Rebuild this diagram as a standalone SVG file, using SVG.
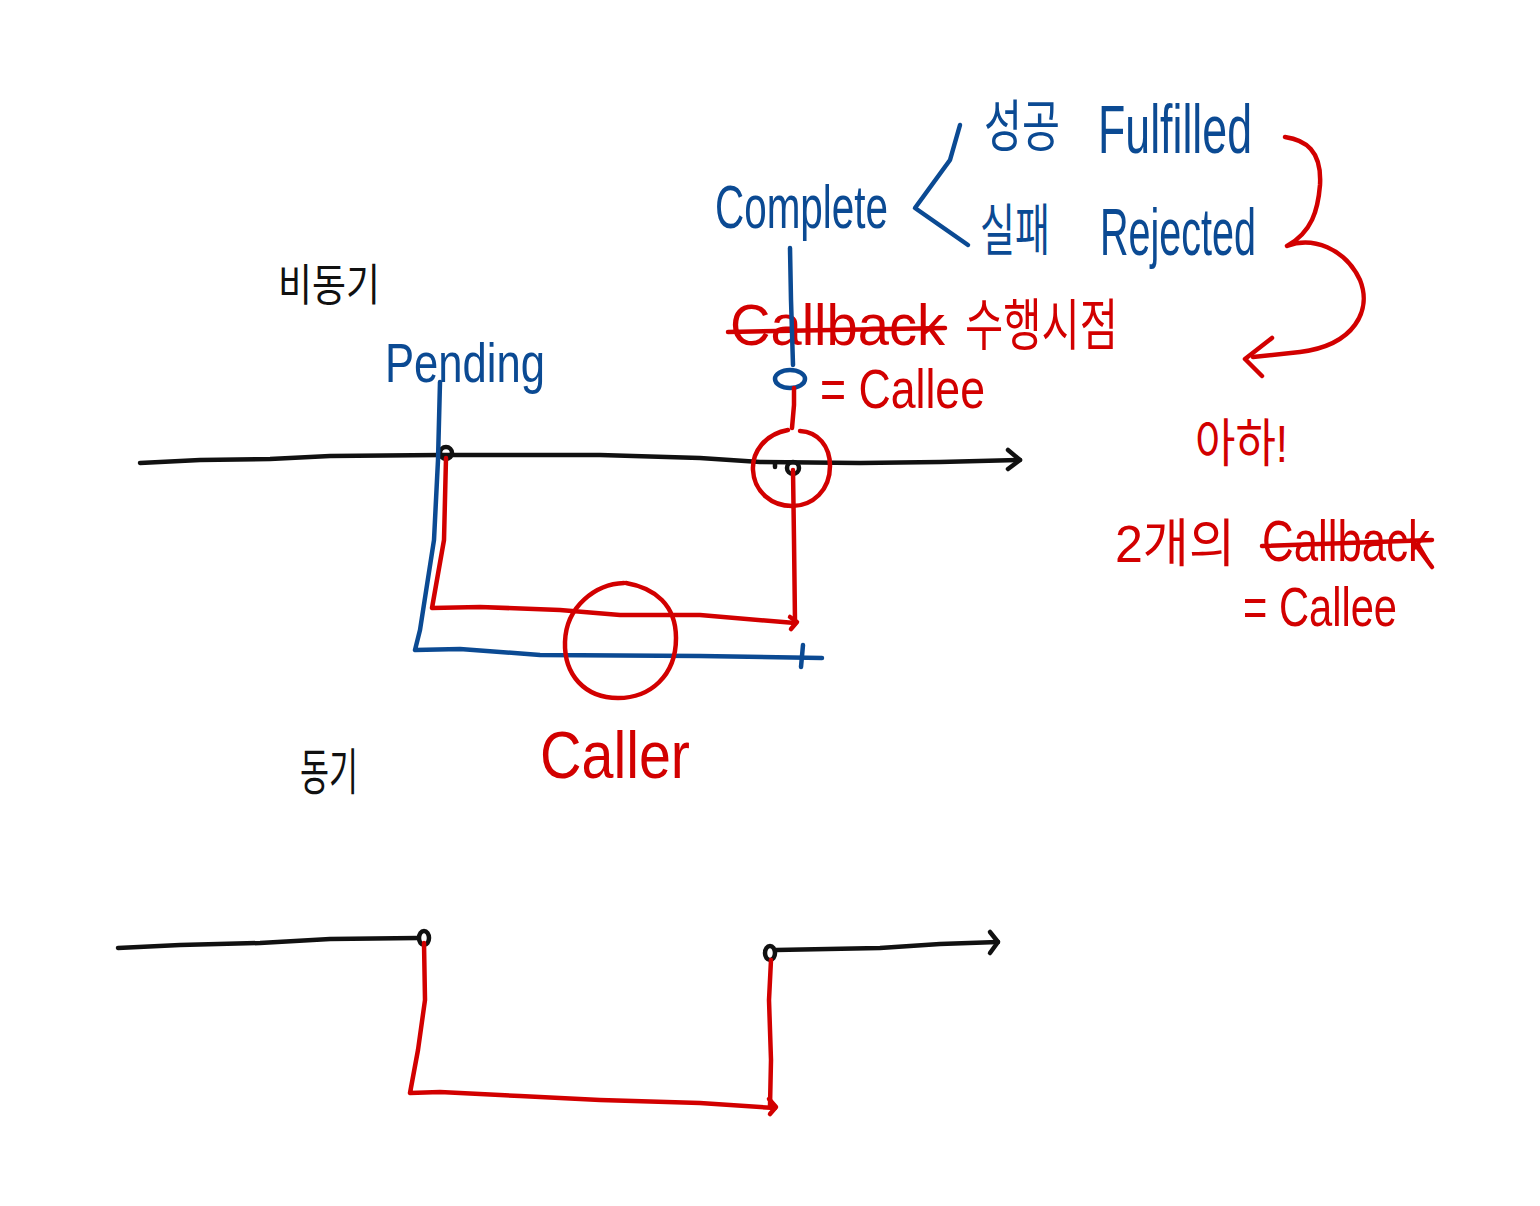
<svg xmlns="http://www.w3.org/2000/svg" width="1540" height="1206" viewBox="0 0 1540 1206">
<style>
.k{stroke:#111;fill:none;stroke-width:4.5;stroke-linecap:round;stroke-linejoin:round}
.b{stroke:#0b4a93;fill:none;stroke-width:4.5;stroke-linecap:round;stroke-linejoin:round}
.r{stroke:#d20000;fill:none;stroke-width:4.5;stroke-linecap:round;stroke-linejoin:round}
.tk{fill:#111;font-family:"Noto Sans CJK KR","Liberation Sans",sans-serif}
.tb{fill:#0b4a93;font-family:"Liberation Sans","Noto Sans CJK KR",sans-serif}
.tr{fill:#d20000;font-family:"Liberation Sans","Noto Sans CJK KR",sans-serif}
</style>
<rect width="1540" height="1206" fill="#fff"/>

<g id="async-labels">
<text class="tk" x="278" y="301" font-size="44" textLength="102" lengthAdjust="spacingAndGlyphs">비동기</text>
<text class="tb" x="385" y="382" font-size="56" textLength="160" lengthAdjust="spacingAndGlyphs">Pending</text>
<text class="tb" x="715" y="228" font-size="62" textLength="173" lengthAdjust="spacingAndGlyphs">Complete</text>
<text class="tb" x="984" y="146" font-size="56" textLength="76" lengthAdjust="spacingAndGlyphs">성공</text>
<text class="tb" x="1098" y="153" font-size="68" textLength="154" lengthAdjust="spacingAndGlyphs">Fulfilled</text>
<text class="tb" x="980" y="250" font-size="56" textLength="70" lengthAdjust="spacingAndGlyphs">실패</text>
<text class="tb" x="1100" y="255" font-size="66" textLength="156" lengthAdjust="spacingAndGlyphs">Rejected</text>
<text class="tr" x="730" y="345" font-size="58" textLength="215" lengthAdjust="spacingAndGlyphs">Callback</text>
<text class="tr" x="965" y="345" font-size="56" textLength="153" lengthAdjust="spacingAndGlyphs">수행시점</text>
<text class="tr" x="820" y="408" font-size="56" textLength="165" lengthAdjust="spacingAndGlyphs">= Callee</text>
<text class="tr" x="540" y="778" font-size="66" textLength="150" lengthAdjust="spacingAndGlyphs">Caller</text>
</g>

<g id="notes">
<text class="tr" x="1195" y="462" font-size="52" textLength="93" lengthAdjust="spacingAndGlyphs">아하!</text>
<text class="tr" x="1115" y="562" font-size="52" textLength="120" lengthAdjust="spacingAndGlyphs">2개의</text>
<text class="tr" x="1262" y="561" font-size="58" textLength="168" lengthAdjust="spacingAndGlyphs">Callback</text>
<text class="tr" x="1243" y="626" font-size="56" textLength="154" lengthAdjust="spacingAndGlyphs">= Callee</text>
</g>

<g id="sync-labels">
<text class="tk" x="300" y="790" font-size="50" textLength="58" lengthAdjust="spacingAndGlyphs">동기</text>
</g>

<g id="connectors">
<!-- strike lines -->
<path class="r" d="M728,332 L945,328"/>
<path class="r" d="M1262,546 L1432,540"/>
<path class="r" d="M1412,540 L1432,567"/>

<!-- async timeline -->
<path class="k" d="M140,463 L200,460 L270,459 L330,456 L440,455 L600,455 L700,458 L760,462 L860,463 L940,462 L1020,460"/>
<path class="k" d="M1008,450 L1020,460 L1008,469"/>
<ellipse class="k" cx="446" cy="453" rx="6" ry="6"/>
<ellipse class="k" cx="793" cy="468" rx="6" ry="6"/>
<path class="k" d="M775,463 L775,467"/>

<!-- pending blue -->
<path class="b" d="M440,382 L438,460 L434,540 L420,630 L415,650 L460,649 L540,655 L700,656 L822,658"/>
<path class="b" d="M803,645 L801,667"/>

<!-- red async flow -->
<path class="r" d="M446,458 L444,540 L432,608 L480,607 L560,610 L620,615 L700,615 L795,623"/>
<path class="r" d="M793,470 L794,540 L795,622"/>
<path class="r" d="M790,617 L797,622 L791,629"/>

<!-- complete blue -->
<path class="b" d="M790,248 L791,300 L793,365"/>
<ellipse class="b" cx="790" cy="379" rx="15" ry="9"/>
<path class="r" d="M794,388 L794,405 L792,428"/>

<!-- red circles -->
<path class="r" d="M788,430 C765,434 752,452 753,470 C754,492 772,506 792,506 C813,506 830,490 830,466 C830,446 818,432 800,431"/>
<path class="r" d="M624,583 C596,584 566,606 565,642 C564,675 585,698 618,698 C650,698 676,676 676,638 C676,605 655,588 626,583"/>

<!-- bracket -->
<path class="b" d="M960,125 L950,160 L915,208 L968,245"/>

<!-- red curly arrow -->
<path class="r" d="M1285,137 C1305,140 1322,150 1320,185 C1318,210 1312,232 1287,246 C1312,236 1345,248 1360,280 C1372,310 1355,345 1300,352 L1253,357"/>
<path class="r" d="M1272,338 L1245,359 L1262,376"/>

<!-- sync timeline -->
<path class="k" d="M118,948 L180,945 L260,943 L330,939 L418,938"/>
<ellipse class="k" cx="424" cy="938" rx="5" ry="7"/>
<path class="k" d="M776,950 L880,948 L940,944 L998,942"/>
<path class="k" d="M990,932 L998,942 L990,953"/>
<ellipse class="k" cx="770" cy="953" rx="5" ry="7"/>

<!-- sync red -->
<path class="r" d="M424,943 L425,1000 L418,1050 L410,1093 L440,1092 L520,1096 L600,1100 L700,1103 L775,1108"/>
<path class="r" d="M771,960 L769,1000 L771,1060 L770,1106"/>
<path class="r" d="M769,1099 L776,1107 L770,1114"/>
</g>
</svg>
